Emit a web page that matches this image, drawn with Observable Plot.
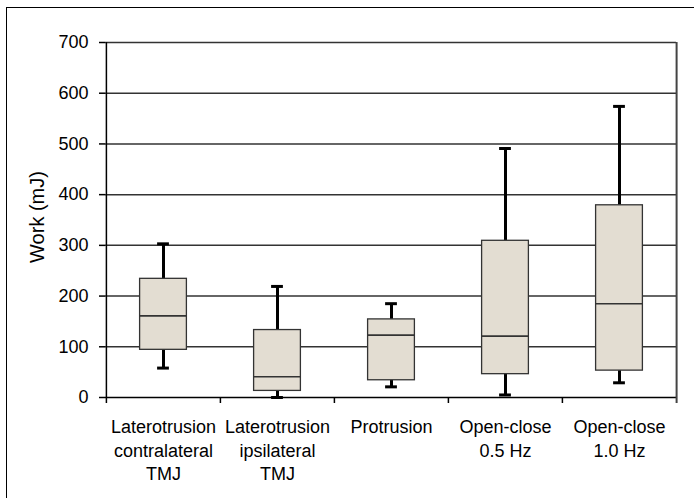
<!DOCTYPE html>
<html>
<head>
<meta charset="utf-8">
<script src="https://cdn.jsdelivr.net/npm/d3@7"></script>
<script src="https://cdn.jsdelivr.net/npm/@observablehq/plot@0.6"></script>
<style>
  html, body { margin: 0; padding: 0; background: #fff; }
  #wrap { position: relative; width: 694px; height: 498px; overflow: hidden; }
  #border { position: absolute; left: 6px; top: 7px; right: -10px; bottom: -10px;
    border-top: 1.5px solid #000; border-left: 1.5px solid #000; pointer-events: none; }
</style>
</head>
<body>
<div id="wrap"><div id="border"></div></div>
<script>
const categories = ["LC", "LI", "PR", "OC05", "OC10"];
const tickLabels = ["Laterotrusion\ncontralateral\nTMJ", "Laterotrusion\nipsilateral\nTMJ", "Protrusion", "Open-close\n0.5 Hz", "Open-close\n1.0 Hz"];
const whiskerLow = [58, 0, 21, 5, 29];
const q1 = [94, 13, 34, 46, 53];
const median = [161, 41, 123, 121, 185];
const q3 = [234, 133, 154, 309, 379];
const whiskerHigh = [303, 219, 185, 491, 574];
const yTicks = [0, 100, 200, 300, 400, 500, 600, 700];
const yLabel = "Work (mJ)";

const data = categories.map((c, i) => ({
  cat: c, lo: whiskerLow[i], q1: q1[i], med: median[i], q3: q3[i], hi: whiskerHigh[i]
}));
const labelOf = Object.fromEntries(categories.map((c, i) => [c, tickLabels[i]]));

const W = 694, H = 498, ML = 105, MR = 18;
const band = (W - ML - MR) / categories.length;
const half = band / 2;
const boxW = 47, capW = 12;
const boxInset = (band - boxW) / 2, capInset = (band - capW) / 2;

const chart = Plot.plot({
  width: W, height: H,
  marginLeft: ML, marginRight: MR, marginTop: 42, marginBottom: 101,
  style: { fontFamily: "'Liberation Sans', Arial, sans-serif", fontSize: "18px", color: "#000", background: "#fff" },
  x: { domain: categories, padding: 0, label: null },
  y: { domain: [0, 700], label: null },
  marks: [
    Plot.gridY(yTicks.filter(d => d > 0), { stroke: "#333", strokeOpacity: 1, strokeWidth: 1.5 }),
    Plot.ruleX([categories[categories.length - 1]], { dx: half, stroke: "#444", strokeWidth: 2 }),
    // whiskers
    Plot.ruleX(data, { x: "cat", y1: "q3", y2: "hi", stroke: "#000", strokeWidth: 3 }),
    Plot.ruleX(data, { x: "cat", y1: "lo", y2: "q1", stroke: "#000", strokeWidth: 3 }),
    Plot.tickY(data, { x: "cat", y: "hi", stroke: "#000", strokeWidth: 3, insetLeft: capInset, insetRight: capInset }),
    Plot.tickY(data, { x: "cat", y: "lo", stroke: "#000", strokeWidth: 3, insetLeft: capInset, insetRight: capInset }),
    // boxes
    Plot.barY(data, { x: "cat", y1: "q1", y2: "q3", fill: "#e3ddd2", stroke: "#333", strokeWidth: 1.3, insetLeft: boxInset, insetRight: boxInset }),
    Plot.tickY(data, { x: "cat", y: "med", stroke: "#333", strokeWidth: 1.6, insetLeft: boxInset, insetRight: boxInset }),
    // axes lines
    Plot.ruleY([0], { stroke: "#000", strokeWidth: 1.5 }),
    Plot.ruleX([categories[0]], { dx: -half, stroke: "#000", strokeWidth: 1.5 }),
    Plot.axisY({ ticks: yTicks, tickSize: 6, tickPadding: 11, stroke: "#000", strokeWidth: 1.5, fontSize: 18, label: null }),
    Plot.axisX({ tickSize: 6, dx: -half, tickFormat: () => "", stroke: "#000", strokeWidth: 1.5, label: null }),
    Plot.axisX({ ticks: [categories[categories.length - 1]], tickSize: 6, dx: half, tickFormat: () => "", stroke: "#444", strokeWidth: 2, label: null }),
    Plot.axisX({ tickSize: 0, tickPadding: 19, tickFormat: d => labelOf[d], lineHeight: 1.3, fontSize: 18, label: null }),
    Plot.text([yLabel], { text: d => d, frameAnchor: "left", dx: -68, dy: -3, rotate: -90, textAnchor: "middle", lineAnchor: "middle", fontSize: 20 })
  ]
});
document.getElementById("wrap").appendChild(chart);
</script>
</body>
</html>
